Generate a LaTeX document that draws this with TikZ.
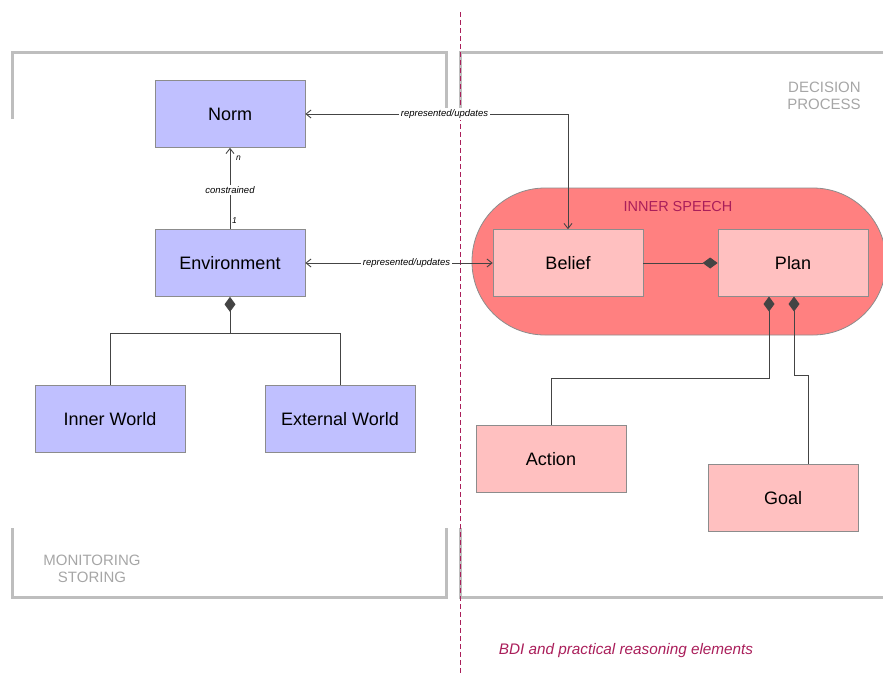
\documentclass[tikz,border=0pt]{standalone}
\usepackage{fontspec}
\setmainfont{Liberation Sans}
\usetikzlibrary{arrows.meta}
\definecolor{lav}{RGB}{192,192,255}
\definecolor{pinkbox}{RGB}{255,192,192}
\definecolor{pill}{RGB}{255,128,128}
\definecolor{crim}{RGB}{170,30,90}
\definecolor{frame}{RGB}{190,190,190}
\definecolor{conn}{RGB}{68,68,68}
\tikzset{
  cls/.style={draw=black!45, line width=0.7pt, minimum width=150pt, minimum height=67pt, font=\fontsize{18}{20}\selectfont, inner sep=0pt},
  blue/.style={cls, fill=lav},
  pink/.style={cls, fill=pinkbox},
  bracket/.style={draw=frame, line width=3pt},
  link/.style={draw=conn, line width=0.9pt},
  lbl/.style={font=\fontsize{9.5}{11}\selectfont\itshape, fill=white, inner sep=1.5pt},
  mult/.style={font=\fontsize{8.5}{10}\selectfont\itshape, inner sep=1pt},
  gtext/.style={text=black!35, font=\fontsize{15}{16.5}\selectfont, align=center},
  dia/.style={-{Diamond[length=15pt,width=11pt,fill=conn]}},
  opn/.style={-{Straight Barb[length=5pt,width=8pt]}},
}
\begin{document}
\begin{tikzpicture}[x=1pt,y=-1pt]
\useasboundingbox (0,0) rectangle (883,673);
% frames
\draw[bracket] (12,119) -- (12,52) -- (446,52) -- (446,113);
\draw[bracket] (12,528) -- (12,597) -- (446,597) -- (446,528);
\draw[bracket] (460,113) -- (460,52) -- (883,52);
\draw[bracket] (460,528) -- (460,597) -- (883,597);
% pill
\path[draw=black!45, line width=0.8pt, fill=pill, rounded corners=73pt] (472,188) rectangle (886,335);
\node[text=crim, font=\fontsize{14.5}{16}\selectfont] (isp) at (678,207) {INNER SPEECH};
% dashed line
\draw[crim, dashed, dash pattern=on 5pt off 3pt, line width=1pt] (460,12) -- (460,673);
% texts
\node[gtext, align=right] (dp) at (824,96) {DECISION\\PROCESS};
\node[gtext] (ms) at (92,569) {MONITORING\\STORING};
\node[text=crim, font=\fontsize{15.3}{17}\selectfont\itshape] (bdi) at (626,651) {BDI and practical reasoning elements};
% nodes
\node[blue] (norm) at (230,114) {Norm};
\node[blue] (env) at (230,263) {Environment};
\node[blue] (iw) at (110,419) {Inner World};
\node[blue] (ew) at (340,419) {External World};
\node[pink] (bel) at (568,263) {Belief};
\node[pink] (plan) at (793,263) {Plan};
\node[pink] (act) at (551,459) {Action};
\node[pink] (goal) at (783,498) {Goal};
% connectors
\draw[link, opn] (env.north) -- node[lbl, pos=0.48] (con) {constrained} (norm.south);
\node[mult, anchor=west] (mn) at (235,158) {n};
\node[mult, anchor=west] (m1) at (231,221) {1};
\draw[link, {Straight Barb[length=5pt,width=8pt]}-{Straight Barb[length=5pt,width=8pt]}] (norm.east) -- node[lbl, pos=0.53] (l1) {represented/updates} (568,114) -- (bel.north);
\draw[link, {Straight Barb[length=5pt,width=8pt]}-{Straight Barb[length=5pt,width=8pt]}] (env.east) -- node[lbl, pos=0.54] (l2) {represented/updates} (bel.west);
\draw[link, dia] (bel.east) -- (plan.west);
\draw[link, {Diamond[length=15pt,width=11pt,fill=conn]}-] (env.south) -- (230,333) -- (110,333) -- (iw.north);
\draw[link] (230,333) -- (340,333) -- (ew.north);
\coordinate (p1) at (769,296.5);
\coordinate (p2) at (794,296.5);
\coordinate (g1) at (808,375);
\draw[link, {Diamond[length=15pt,width=11pt,fill=conn]}-] (p1) -- (769,378) -- (551,378) -- (act.north);
\draw[link, {Diamond[length=15pt,width=11pt,fill=conn]}-] (p2) -- (794,375) -- (g1) -- (g1 |- goal.north);
\end{tikzpicture}
\end{document}
